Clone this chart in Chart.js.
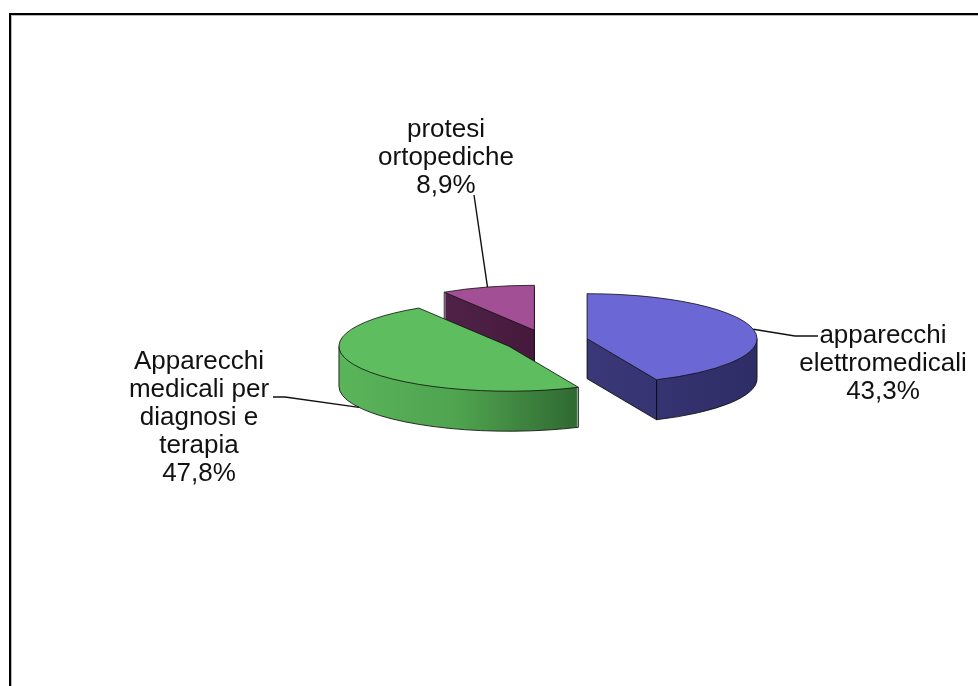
<!DOCTYPE html>
<html>
<head>
<meta charset="utf-8">
<script src="https://cdn.jsdelivr.net/npm/chart.js@4.4.0/dist/chart.umd.min.js"></script>
<style>
  html, body { margin: 0; padding: 0; background: #fff; }
  canvas { display: block; }
</style>
</head>
<body>
<canvas id="chart" width="978" height="686"></canvas>
<script>
// Categories and their shares (%)
const categories = ['apparecchi elettromedicali', 'Apparecchi medicali per diagnosi e terapia', 'protesi ortopediche'];
const labelLines = [
  ['apparecchi', 'elettromedicali'],
  ['Apparecchi', 'medicali per', 'diagnosi e', 'terapia'],
  ['protesi', 'ortopediche']
];
const shares = [43.3, 47.8, 8.9];

// Styles
const topColors = ['#6b68d5', '#5ebd5e', '#a24f96'];
const sideStops = [
  ['#3a3878', '#2f2d66'],
  ['#5ab55a', '#4fa34f', '#2f6931'],
  ['#502248', '#45193c']
];

const TILT = 45 / 170;   // vertical squash of the disc
const DEPTH = 40;        // thickness of the disc in px
const EXPLODE = 42;      // radial distance each slice is pulled out

function tilt(ctx, oy, shift) {
  ctx.translate(0, oy + shift);
  ctx.scale(1, TILT);
  ctx.translate(0, -oy);
}
function sectorPath(ctx, g, shift) {
  ctx.save();
  tilt(ctx, g.oy, shift);
  ctx.beginPath();
  ctx.moveTo(g.cx, g.cy);
  ctx.arc(g.cx, g.cy, g.r, g.s, g.e);
  ctx.closePath();
  ctx.restore();
}
function pt(g, a, shift) {
  const x = g.cx + g.r * Math.cos(a);
  const y = g.cy + g.r * Math.sin(a);
  return [x, g.oy + (y - g.oy) * TILT + shift];
}
function centerPt(g, shift) {
  return [g.cx, g.oy + (g.cy - g.oy) * TILT + shift];
}
function line(ctx, pts) {
  ctx.beginPath();
  ctx.moveTo(pts[0][0], pts[0][1]);
  for (let i = 1; i < pts.length; i++) ctx.lineTo(pts[i][0], pts[i][1]);
  ctx.stroke();
}

function geometry(chart) {
  const arcs = chart.getDatasetMeta(0).data;
  return arcs.map((a, i) => {
    const p = a.getProps(['x', 'y', 'startAngle', 'endAngle', 'outerRadius']);
    const mid = (p.startAngle + p.endAngle) / 2;
    const d = a.options.offset;
    return {
      i, mid, r: p.outerRadius, s: p.startAngle, e: p.endAngle, oy: p.y,
      cx: p.x + Math.cos(mid) * d,
      cy: p.y + Math.sin(mid) * d
    };
  });
}

function drawSlice(ctx, g) {
  // horizontal extent of the slice for the side shading
  let xmin = g.cx, xmax = g.cx;
  for (let k = 0; k <= 60; k++) {
    const x = g.cx + g.r * Math.cos(g.s + (g.e - g.s) * k / 60);
    xmin = Math.min(xmin, x); xmax = Math.max(xmax, x);
  }
  const grad = ctx.createLinearGradient(xmin, 0, xmax, 0);
  const stops = sideStops[g.i];
  stops.forEach((c, k) => grad.addColorStop(k / (stops.length - 1), c));

  // side walls: stacked copies of the sector
  ctx.fillStyle = grad;
  for (let d = DEPTH; d >= 1; d--) {
    sectorPath(ctx, g, d);
    ctx.fill();
  }

  // visible lower edges
  ctx.strokeStyle = 'rgba(15,15,15,0.85)';
  ctx.lineWidth = 1;
  const a0 = Math.max(g.s, 0), a1 = Math.min(g.e, Math.PI);
  if (a1 > a0) {
    ctx.save();
    tilt(ctx, g.oy, DEPTH);
    ctx.beginPath();
    ctx.arc(g.cx, g.cy, g.r, a0, a1);
    ctx.restore();
    ctx.stroke();
    line(ctx, [pt(g, a0, 0), pt(g, a0, DEPTH)]);
    line(ctx, [pt(g, a1, 0), pt(g, a1, DEPTH)]);
  }
  if (Math.cos(g.s) < -0.01) {
    line(ctx, [centerPt(g, DEPTH), pt(g, g.s, DEPTH)]);
    line(ctx, [centerPt(g, 0), centerPt(g, DEPTH)]);
    line(ctx, [pt(g, g.s, 0), pt(g, g.s, DEPTH)]);
  }
  if (Math.cos(g.e) > 0.01) {
    line(ctx, [centerPt(g, DEPTH), pt(g, g.e, DEPTH)]);
    line(ctx, [centerPt(g, 0), centerPt(g, DEPTH)]);
    line(ctx, [pt(g, g.e, 0), pt(g, g.e, DEPTH)]);
  }

  // top face
  sectorPath(ctx, g, 0);
  ctx.fillStyle = topColors[g.i];
  ctx.fill();
  ctx.strokeStyle = 'rgba(15,15,15,0.8)';
  ctx.stroke();
}

const pie3d = {
  id: 'pie3d',
  beforeDatasetsDraw(chart) {
    const ctx = chart.ctx;
    const geo = geometry(chart).sort((a, b) => a.cy - b.cy);
    ctx.save();
    geo.forEach(g => drawSlice(ctx, g));
    ctx.restore();
    return false;
  }
};

// Outer frame of the chart area
const frame = {
  id: 'frame',
  afterDraw(chart) {
    const ctx = chart.ctx;
    ctx.save();
    ctx.fillStyle = '#000';
    ctx.fillRect(9, 13, 2, 700);
    ctx.fillRect(9, 13, 1000, 2);
    ctx.fillStyle = '#b8b8b8';
    ctx.fillRect(11, 15, 1, 700);
    ctx.fillRect(11, 15, 1000, 1);
    ctx.restore();
  }
};

// Category labels with leader lines
const labelAnchors = [
  { x: 883, y: 343, leader: [[795, 336], [818, 336]], drop: 0 },
  { x: 199, y: 369, leader: [[285, 397], [273, 397]], drop: DEPTH },
  { x: 446, y: 137, leader: [[474, 195]], drop: 0 }
];
const sliceLabels = {
  id: 'sliceLabels',
  afterDraw(chart) {
    const ctx = chart.ctx;
    const geo = geometry(chart);
    ctx.save();
    ctx.strokeStyle = '#111';
    ctx.lineWidth = 1.4;
    geo.forEach(g => {
      const L = labelAnchors[g.i];
      line(ctx, [pt(g, g.mid, L.drop)].concat(L.leader));
    });
    ctx.fillStyle = '#111';
    ctx.font = '26px "Liberation Sans", Arial, sans-serif';
    ctx.textAlign = 'center';
    ctx.textBaseline = 'alphabetic';
    labelLines.forEach((lines, i) => {
      const L = labelAnchors[i];
      const all = lines.concat([shares[i].toFixed(1).replace('.', ',') + '%']);
      all.forEach((t, k) => ctx.fillText(t, L.x, L.y + k * 28));
    });
    ctx.restore();
  }
};

new Chart(document.getElementById('chart'), {
  type: 'pie',
  data: {
    labels: categories,
    datasets: [{
      data: shares,
      backgroundColor: topColors,
      borderWidth: 0,
      offset: EXPLODE,
      radius: 170
    }]
  },
  options: {
    responsive: false,
    animation: false,
    events: [],
    radius: 170,
    layout: { padding: { left: 114, right: 0, top: 0, bottom: 4 } },
    plugins: { legend: { display: false }, tooltip: { enabled: false } }
  },
  plugins: [pie3d, frame, sliceLabels]
});
</script>
</body>
</html>
